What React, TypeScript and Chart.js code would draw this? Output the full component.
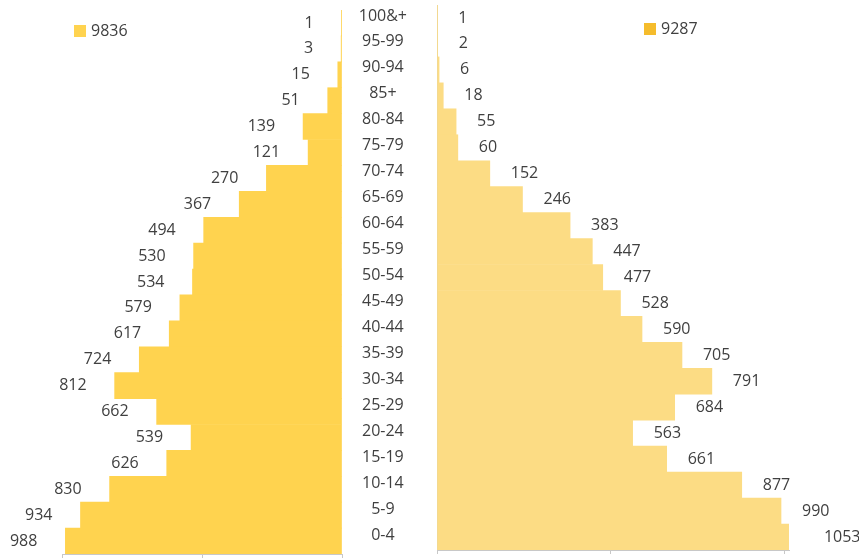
import React, { useEffect, useRef } from "react";
import { Chart, registerables } from "chart.js";

Chart.register(...registerables);

const ageGroups = [
  "100&+", "95-99", "90-94", "85+", "80-84", "75-79", "70-74", "65-69", "60-64",
  "55-59", "50-54", "45-49", "40-44", "35-39", "30-34", "25-29", "20-24", "15-19",
  "10-14", "5-9", "0-4",
];
const leftValues = [1, 3, 15, 51, 139, 121, 270, 367, 494, 530, 534, 579, 617, 724, 812, 662, 539, 626, 830, 934, 988];
const rightValues = [1, 2, 6, 18, 55, 60, 152, 246, 383, 447, 477, 528, 590, 705, 791, 684, 563, 661, 877, 990, 1053];
const seriesNames = ["9836", "9287"];
const xTicks = [0, 500, 1000];

const W = 859;
const H = 558;
const FONT = "16px 'Open Sans'";
const TEXT = "#404040";
const AXIS = "#c8c8c8";

const valueLabels = {
  id: "valueLabels",
  afterDatasetsDraw(chart: any, _args: any, opts: any) {
    const { ctx } = chart;
    const meta = chart.getDatasetMeta(0);
    const data = chart.data.datasets[0].data as number[];
    const xScale = chart.scales.x;
    ctx.save();
    ctx.font = FONT;
    ctx.fillStyle = TEXT;
    ctx.textBaseline = "middle";
    ctx.textAlign = opts.side === "left" ? "right" : "left";
    meta.data.forEach((bar: any, i: number) => {
      const x = xScale.getPixelForValue(data[i]);
      const tx = opts.side === "left" ? x - opts.gap : x + opts.gap;
      ctx.fillText(String(data[i]), tx, bar.y);
    });
    ctx.restore();
  },
};

const boxLegend = {
  id: "boxLegend",
  afterDraw(chart: any, _args: any, opts: any) {
    const { ctx } = chart;
    const ds = chart.data.datasets[0];
    ctx.save();
    ctx.fillStyle = opts.swatch;
    ctx.fillRect(opts.x, opts.y, 12, 12);
    ctx.font = FONT;
    ctx.fillStyle = TEXT;
    ctx.textBaseline = "middle";
    ctx.textAlign = "left";
    ctx.fillText(ds.label, opts.x + 17, opts.y + 6);
    ctx.restore();
  },
};

function xAxis(reverse: boolean, max: number) {
  return {
    type: "linear" as const,
    reverse,
    min: 0,
    max,
    afterBuildTicks: (s: any) => {
      s.ticks = xTicks.map((v) => ({ value: v }));
    },
    afterFit: (s: any) => {
      s.height = 4;
      s.paddingLeft = 0;
      s.paddingRight = 0;
    },
    ticks: { display: false },
    grid: { drawOnChartArea: false, drawTicks: true, tickLength: 4, color: AXIS },
    border: { display: true, color: AXIS },
  };
}

export default function App() {
  const leftRef = useRef<HTMLCanvasElement>(null);
  const rightRef = useRef<HTMLCanvasElement>(null);

  useEffect(() => {
    const left = new Chart(leftRef.current!, {
      type: "bar",
      data: {
        labels: ageGroups,
        datasets: [
          {
            label: seriesNames[0],
            data: leftValues,
            backgroundColor: "#FFD34F",
            borderWidth: 0,
            barPercentage: 1,
            categoryPercentage: 1,
          },
        ],
      },
      options: {
        indexAxis: "y",
        responsive: false,
        animation: false,
        layout: { padding: { left: 62, right: W - 342, top: 10, bottom: 0 } },
        scales: {
          x: xAxis(true, 1000),
          y: { display: false },
        },
        plugins: {
          legend: { display: false },
          tooltip: { enabled: false },
          valueLabels: { side: "left", gap: 28 },
          boxLegend: { x: 74, y: 25, swatch: "#FFD34F" },
        } as any,
      },
      plugins: [valueLabels, boxLegend],
    });

    const right = new Chart(rightRef.current!, {
      type: "bar",
      data: {
        labels: ageGroups,
        datasets: [
          {
            label: seriesNames[1],
            data: rightValues,
            backgroundColor: "#FCDC84",
            borderWidth: 0,
            barPercentage: 1,
            categoryPercentage: 1,
          },
        ],
      },
      options: {
        indexAxis: "y",
        responsive: false,
        animation: false,
        layout: { padding: { left: 342, right: W - 789, top: 5, bottom: 4 } },
        scales: {
          x: xAxis(false, 1013),
          y: {
            position: "left",
            afterFit: (s: any) => {
              s.width = 95;
              s.paddingTop = 0;
              s.paddingBottom = 0;
            },
            ticks: {
              crossAlign: "center",
              padding: 30,
              labelOffset: -2,
              color: TEXT,
              font: { family: "'Open Sans'", size: 16 },
              autoSkip: false,
            },
            grid: { display: false, drawTicks: false },
            border: { display: true, color: AXIS },
          },
        },
        plugins: {
          legend: { display: false },
          tooltip: { enabled: false },
          valueLabels: { side: "right", gap: 21 },
          boxLegend: { x: 644, y: 23, swatch: "#F5BC2C" },
        } as any,
      },
      plugins: [valueLabels, boxLegend],
    });

    return () => {
      left.destroy();
      right.destroy();
    };
  }, []);

  const canvasStyle: React.CSSProperties = { position: "absolute", left: 0, top: 0, width: W, height: H };
  return (
    <div style={{ position: "fixed", left: 0, top: 0, width: W, height: H, background: "#fff" }}>
      <canvas ref={leftRef} width={W} height={H} style={canvasStyle} />
      <canvas ref={rightRef} width={W} height={H} style={canvasStyle} />
    </div>
  );
}
